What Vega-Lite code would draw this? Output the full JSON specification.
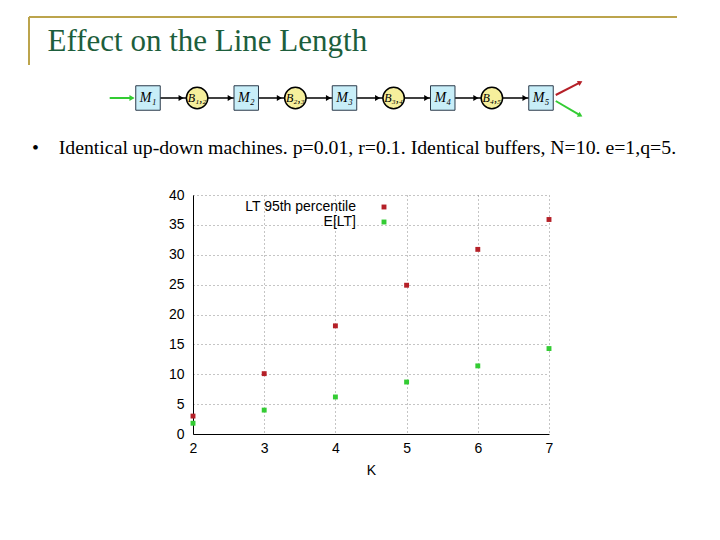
{
  "$schema": "https://vega.github.io/schema/vega-lite/v6.json",
  "width": 356,
  "height": 239,
  "autosize": {"type": "none"},
  "padding": {"left": 193, "top": 195, "right": 171, "bottom": 106},
  "background": "white",
  "title": {
    "text": "\u200b\u00a0\u00a0Effect on the Line Length",
    "subtitle": "•\u00a0\u00a0\u00a0\u00a0Identical up-down machines. p=0.01, r=0.1. Identical buffers, N=10. e=1,q=5.",
    "anchor": "start",
    "frame": "group",
    "dx": -161,
    "offset": -143,
    "font": "Liberation Serif",
    "fontSize": 31,
    "fontWeight": "normal",
    "color": "#1d5e3c",
    "subtitleFont": "Liberation Serif",
    "subtitleFontSize": 19.8,
    "subtitleColor": "#000000",
    "subtitlePadding": 80
  },
  "datasets": {
    "points": [
      {"K": 2, "series": "LT 95th percentile", "value": 3.0},
      {"K": 3, "series": "LT 95th percentile", "value": 10.1},
      {"K": 4, "series": "LT 95th percentile", "value": 18.1},
      {"K": 5, "series": "LT 95th percentile", "value": 24.9},
      {"K": 6, "series": "LT 95th percentile", "value": 30.9},
      {"K": 7, "series": "LT 95th percentile", "value": 35.9},
      {"K": 2, "series": "E[LT]", "value": 1.8},
      {"K": 3, "series": "E[LT]", "value": 4.0},
      {"K": 4, "series": "E[LT]", "value": 6.2},
      {"K": 5, "series": "E[LT]", "value": 8.7},
      {"K": 6, "series": "E[LT]", "value": 11.4},
      {"K": 7, "series": "E[LT]", "value": 14.3}
    ],
    "nodes": [
      {"i": 0, "kind": "M", "label": "M₁"},
      {"i": 1, "kind": "B", "label": "B₁,₂"},
      {"i": 2, "kind": "M", "label": "M₂"},
      {"i": 3, "kind": "B", "label": "B₂,₃"},
      {"i": 4, "kind": "M", "label": "M₃"},
      {"i": 5, "kind": "B", "label": "B₃,₄"},
      {"i": 6, "kind": "M", "label": "M₄"},
      {"i": 7, "kind": "B", "label": "B₄,₅"},
      {"i": 8, "kind": "M", "label": "M₅"}
    ]
  },
  "config": {
    "view": {"stroke": null},
    "axis": {
      "labelFont": "Liberation Sans",
      "labelFontSize": 14,
      "labelColor": "#000000",
      "labelFlush": false,
      "titleFont": "Liberation Sans",
      "titleFontSize": 14,
      "titleFontWeight": "normal",
      "titleColor": "#000000",
      "domainColor": "#000000",
      "domainWidth": 1,
      "ticks": false,
      "gridColor": "#8a8a8a",
      "gridDash": [1, 3],
      "gridWidth": 1,
      "gridOpacity": 1
    }
  },
  "resolve": {"scale": {"x": "independent", "y": "independent"}},
  "layer": [
    {
      "data": {"values": [{}]},
      "mark": {"type": "rule", "color": "#bca44c", "strokeWidth": 2},
      "encoding": {
        "x": {"datum": 0, "type": "quantitative", "scale": {"domain": [0, 1], "range": [-164, 484]}, "axis": null},
        "x2": {"datum": 1},
        "y": {"datum": 0, "type": "quantitative", "scale": {"domain": [0, 1], "range": [-178, -130]}, "axis": null}
      }
    },
    {
      "data": {"values": [{}]},
      "mark": {"type": "rule", "color": "#bca44c", "strokeWidth": 2},
      "encoding": {
        "x": {"datum": 0, "type": "quantitative", "scale": {"domain": [0, 1], "range": [-164, 484]}, "axis": null},
        "y": {"datum": 0, "type": "quantitative", "scale": {"domain": [0, 1], "range": [-178, -130]}, "axis": null},
        "y2": {"datum": 1}
      }
    },
    {
      "data": {"values": [{}]},
      "mark": {"type": "rule", "color": "#000000", "strokeWidth": 1.5},
      "encoding": {
        "x": {"datum": 0, "type": "quantitative", "scale": {"domain": [0, 8], "range": [-45, 348]}, "axis": null},
        "x2": {"datum": 8},
        "y": {"datum": 0, "type": "quantitative", "scale": {"domain": [-1, 1], "range": [-85, -109]}, "axis": null}
      }
    },
    {
      "data": {"values": [{}]},
      "mark": {"type": "rule", "color": "#33cc33", "strokeWidth": 2},
      "encoding": {
        "x": {"datum": -0.78, "type": "quantitative", "scale": {"domain": [0, 8], "range": [-45, 348]}, "axis": null},
        "x2": {"datum": -0.3},
        "y": {"datum": 0, "type": "quantitative", "scale": {"domain": [-1, 1], "range": [-85, -109]}, "axis": null}
      }
    },
    {
      "data": {"values": [{}]},
      "mark": {"type": "rule", "color": "#b52028", "strokeWidth": 2},
      "encoding": {
        "x": {"datum": 8.3, "type": "quantitative", "scale": {"domain": [0, 8], "range": [-45, 348]}, "axis": null},
        "x2": {"datum": 8.8},
        "y": {"datum": 0.25, "type": "quantitative", "scale": {"domain": [-1, 1], "range": [-85, -109]}, "axis": null},
        "y2": {"datum": 1.3}
      }
    },
    {
      "data": {"values": [{}]},
      "mark": {"type": "rule", "color": "#33cc33", "strokeWidth": 2},
      "encoding": {
        "x": {"datum": 8.3, "type": "quantitative", "scale": {"domain": [0, 8], "range": [-45, 348]}, "axis": null},
        "x2": {"datum": 8.8},
        "y": {"datum": -0.25, "type": "quantitative", "scale": {"domain": [-1, 1], "range": [-85, -109]}, "axis": null},
        "y2": {"datum": -1.45}
      }
    },
    {
      "data": {"values": [{}]},
      "mark": {"type": "point", "shape": "triangle-right", "filled": true, "color": "#b52028", "opacity": 1, "size": 30, "angle": 332},
      "encoding": {
        "x": {"datum": 8.8, "type": "quantitative", "scale": {"domain": [0, 8], "range": [-45, 348]}, "axis": null},
        "y": {"datum": 1.3, "type": "quantitative", "scale": {"domain": [-1, 1], "range": [-85, -109]}, "axis": null}
      }
    },
    {
      "data": {"values": [{}]},
      "mark": {"type": "point", "shape": "triangle-right", "filled": true, "color": "#33cc33", "opacity": 1, "size": 30, "angle": 29},
      "encoding": {
        "x": {"datum": 8.8, "type": "quantitative", "scale": {"domain": [0, 8], "range": [-45, 348]}, "axis": null},
        "y": {"datum": -1.45, "type": "quantitative", "scale": {"domain": [-1, 1], "range": [-85, -109]}, "axis": null}
      }
    },
    {
      "data": {"name": "nodes"},
      "mark": {"type": "point", "shape": "triangle-right", "filled": true, "opacity": 1, "size": 35},
      "encoding": {
        "x": {"field": "i", "type": "quantitative", "scale": {"domain": [0, 8], "range": [-45, 348]}, "axis": null},
        "y": {"datum": 0, "type": "quantitative", "scale": {"domain": [-1, 1], "range": [-85, -109]}, "axis": null},
        "xOffset": {"value": -16},
        "color": {"condition": {"test": "datum.i === 0", "value": "#33cc33"}, "value": "#000000"}
      }
    },
    {
      "data": {"name": "nodes"},
      "transform": [{"filter": "datum.kind === 'M'"}],
      "mark": {"type": "point", "shape": "square", "filled": true, "opacity": 1, "size": 600, "fill": "#c8eef8", "stroke": "#2a3a4a", "strokeWidth": 1},
      "encoding": {
        "x": {"field": "i", "type": "quantitative", "scale": {"domain": [0, 8], "range": [-45, 348]}, "axis": null},
        "y": {"datum": 0, "type": "quantitative", "scale": {"domain": [-1, 1], "range": [-85, -109]}, "axis": null}
      }
    },
    {
      "data": {"name": "nodes"},
      "transform": [{"filter": "datum.kind === 'B'"}],
      "mark": {"type": "point", "shape": "circle", "filled": true, "opacity": 1, "size": 460, "fill": "#f6ef9c", "stroke": "#000000", "strokeWidth": 1.5},
      "encoding": {
        "x": {"field": "i", "type": "quantitative", "scale": {"domain": [0, 8], "range": [-45, 348]}, "axis": null},
        "y": {"datum": 0, "type": "quantitative", "scale": {"domain": [-1, 1], "range": [-85, -109]}, "axis": null}
      }
    },
    {
      "data": {"name": "nodes"},
      "mark": {"type": "text", "font": "Liberation Serif", "fontStyle": "italic", "color": "#000000", "align": "center", "baseline": "middle"},
      "encoding": {
        "x": {"field": "i", "type": "quantitative", "scale": {"domain": [0, 8], "range": [-45, 348]}, "axis": null},
        "y": {"datum": 0, "type": "quantitative", "scale": {"domain": [-1, 1], "range": [-85, -109]}, "axis": null},
        "text": {"field": "label"},
        "size": {"condition": {"test": "datum.kind === 'B'", "value": 12}, "value": 14}
      }
    },
    {
      "data": {"name": "points"},
      "mark": {"type": "point", "shape": "square", "filled": true, "opacity": 1, "size": 24},
      "encoding": {
        "x": {
          "field": "K", "type": "quantitative",
          "scale": {"domain": [2, 7], "nice": false, "zero": false},
          "axis": {"title": "K", "values": [2, 3, 4, 5, 6, 7], "grid": true, "labelPadding": 7, "titlePadding": 8}
        },
        "y": {
          "field": "value", "type": "quantitative",
          "scale": {"domain": [0, 40], "nice": false},
          "axis": {"title": null, "values": [0, 5, 10, 15, 20, 25, 30, 35, 40], "grid": true, "labelPadding": 9}
        },
        "color": {
          "field": "series", "type": "nominal",
          "scale": {"domain": ["LT 95th percentile", "E[LT]"], "range": ["#b52028", "#33cc33"]},
          "legend": {
            "title": null,
            "orient": "none",
            "legendX": 184,
            "legendY": 5,
            "padding": 0,
            "symbolType": "square",
            "symbolSize": 24,
            "labelAlign": "right",
            "labelOffset": -35,
            "labelFont": "Liberation Sans",
            "labelFontSize": 14,
            "labelColor": "#000000",
            "rowPadding": 1
          }
        }
      }
    }
  ]
}
